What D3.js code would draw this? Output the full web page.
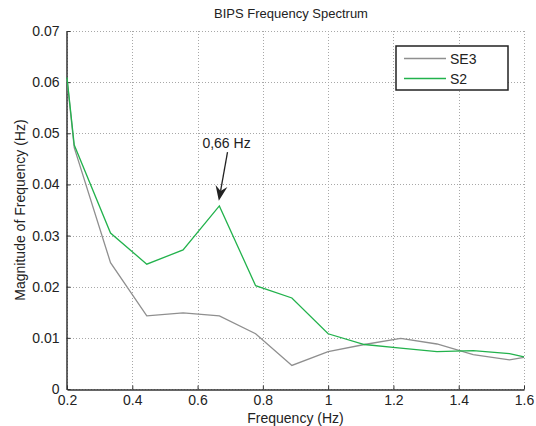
<!DOCTYPE html>
<html>
<head>
<meta charset="utf-8">
<script src="https://cdn.jsdelivr.net/npm/d3@7"></script>
<style>
  body { margin: 0; background: #fff; }
  svg { display: block; font-family: Arial, "Liberation Sans", sans-serif; }
</style>
</head>
<body>
<div id="chart"></div>
<script>
// data
var freqs = [0.2, 0.2222, 0.3333, 0.4444, 0.5556, 0.6667, 0.7778, 0.8889, 1.0, 1.1111, 1.2222, 1.3333, 1.4444, 1.5556, 1.6]
var se3 = [0.0606, 0.0472, 0.0247, 0.0143, 0.0149, 0.0143, 0.0108, 0.0046, 0.0073, 0.0087, 0.0099, 0.0088, 0.0067, 0.0057, 0.0062]
var s2 = [0.0609, 0.0477, 0.0305, 0.0244, 0.0272, 0.0358, 0.0202, 0.0178, 0.0108, 0.0087, 0.0080, 0.0073, 0.0075, 0.0069, 0.0063]
var xTicks = [0.2, 0.4, 0.6, 0.8, 1, 1.2, 1.4, 1.6]
var yTicks = [0, 0.01, 0.02, 0.03, 0.04, 0.05, 0.06, 0.07]
var seriesNames = ["SE3", "S2"]
var seriesColors = ["#8f8f8f", "#22b24c"]
var peakNote = {text: "0,66 Hz", fx: 0.6667, fy: 0.0358}

var width = 536, height = 426
var margin = {top: 31, right: 12, bottom: 37, left: 67}

var x = d3.scaleLinear().domain([0.2, 1.6]).range([margin.left, width - margin.right])
var y = d3.scaleLinear().domain([0, 0.07]).range([height - margin.bottom, margin.top])

var svg = d3.select("#chart").append("svg")
  .attr("width", width)
  .attr("height", height)

// dotted grid
svg.append("g")
  .attr("stroke", "#a8a8a8")
  .attr("stroke-width", 1)
  .attr("stroke-dasharray", "1,2")
  .call(g => g.selectAll(".vx")
    .data(xTicks)
    .join("line")
      .attr("x1", d => Math.round(x(d)) + 0.5)
      .attr("x2", d => Math.round(x(d)) + 0.5)
      .attr("y1", y(0.07))
      .attr("y2", y(0)))
  .call(g => g.selectAll(".hy")
    .data(yTicks)
    .join("line")
      .attr("y1", d => Math.round(y(d)) + 0.5)
      .attr("y2", d => Math.round(y(d)) + 0.5)
      .attr("x1", x(0.2))
      .attr("x2", x(1.6)))

// axes, ticks pointing inwards like matlab
var xAxis = svg.append("g")
  .attr("transform", `translate(0,${Math.round(y(0)) + 0.5})`)
  .call(d3.axisBottom(x).tickValues(xTicks).tickSizeInner(-4).tickSizeOuter(0).tickPadding(6).tickFormat(d3.format("")))
xAxis.select(".domain").attr("stroke", "#333").attr("stroke-width", 1.5)
xAxis.selectAll(".tick line").attr("stroke", "#333")
xAxis.selectAll("text").attr("font-size", 14).attr("fill", "#222")
  .attr("font-family", "Arial, 'Liberation Sans', sans-serif")

var yAxis = svg.append("g")
  .attr("transform", `translate(${Math.round(x(0.2)) - 0.5},0)`)
  .call(d3.axisLeft(y).tickValues(yTicks).tickSizeInner(-4).tickSizeOuter(0).tickPadding(7).tickFormat(d => d === 0 ? "0" : d3.format(".2f")(d)))
yAxis.select(".domain").attr("stroke", "#333").attr("stroke-width", 1.5)
yAxis.selectAll(".tick line").attr("stroke", "#333")
yAxis.selectAll("text").attr("font-size", 14).attr("fill", "#222")
  .attr("font-family", "Arial, 'Liberation Sans', sans-serif")

// lines
var line = d3.line()
  .x((d, i) => x(freqs[i]))
  .y(d => y(d))

var allSeries = [se3, s2]
allSeries.forEach(function(vals, i) {
  svg.append("path")
    .datum(vals)
    .attr("fill", "none")
    .attr("stroke", seriesColors[i])
    .attr("stroke-width", 1.3)
    .attr("stroke-linejoin", "miter")
    .attr("d", line)
})

// annotation arrow for the peak
var tipX = x(peakNote.fx) - 0.5, tipY = y(peakNote.fy + 0.001)
var startX = x(peakNote.fx + 0.025), startY = y(peakNote.fy + 0.0105)
var ang = Math.atan2(tipY - startY, tipX - startX)
svg.append("line")
  .attr("x1", startX).attr("y1", startY)
  .attr("x2", tipX - Math.cos(ang) * 10).attr("y2", tipY - Math.sin(ang) * 10)
  .attr("stroke", "#222").attr("stroke-width", 1.3)
var hl = 15, hw = 6
var bx = tipX - Math.cos(ang) * hl, by = tipY - Math.sin(ang) * hl
var px = -Math.sin(ang) * hw, py = Math.cos(ang) * hw
svg.append("path")
  .attr("d", `M${tipX},${tipY}L${bx + px},${by + py}L${tipX - Math.cos(ang) * 10},${tipY - Math.sin(ang) * 10}L${bx - px},${by - py}Z`)
  .attr("fill", "#222")
svg.append("text")
  .attr("x", x(peakNote.fx + 0.022))
  .attr("y", y(peakNote.fy + 0.0114))
  .attr("text-anchor", "middle")
  .attr("font-size", 14)
  .attr("fill", "#222")
  .text(peakNote.text)

// legend
var lg = svg.append("g").attr("transform", "translate(396,46)")
lg.append("rect")
  .attr("width", 112).attr("height", 44)
  .attr("fill", "#fff").attr("stroke", "#222").attr("stroke-width", 1.5)
seriesNames.forEach(function(name, i) {
  lg.append("line")
    .attr("x1", 8).attr("x2", 50)
    .attr("y1", 12.5 + i * 20).attr("y2", 12.5 + i * 20)
    .attr("stroke", seriesColors[i]).attr("stroke-width", 1.3)
  lg.append("text")
    .attr("x", 54).attr("y", 17.5 + i * 20)
    .attr("font-size", 14).attr("fill", "#222")
    .text(name)
})

// title and axis labels
svg.append("text")
  .attr("x", 291).attr("y", 18)
  .attr("text-anchor", "middle")
  .attr("font-size", 13).attr("fill", "#222")
  .text("BIPS Frequency Spectrum")

svg.append("text")
  .attr("x", (x(0.2) + x(1.6)) / 2).attr("y", 423)
  .attr("text-anchor", "middle")
  .attr("font-size", 14).attr("fill", "#222")
  .text("Frequency (Hz)")

svg.append("text")
  .attr("transform", `translate(25,${(y(0) + y(0.07)) / 2}) rotate(-90)`)
  .attr("text-anchor", "middle")
  .attr("font-size", 14).attr("fill", "#222")
  .text("Magnitude of Frequency (Hz)")
</script>
</body>
</html>
